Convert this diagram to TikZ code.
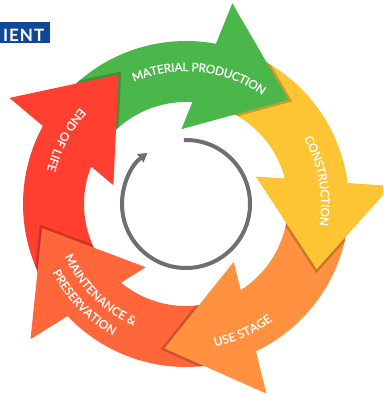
\documentclass[tikz,border=0pt]{standalone}
\usepackage{fontspec}
\newfontfamily\lbl[FakeBold=0.9]{Lato}
\newfontfamily\hdr[LetterSpace=6]{Lato}
\usetikzlibrary{decorations.text,arrows.meta}
\definecolor{cG}{RGB}{75,183,74}
\definecolor{cY}{RGB}{253,196,52}
\definecolor{cO}{RGB}{255,145,64}
\definecolor{cM}{RGB}{255,102,58}
\definecolor{cR}{RGB}{255,64,48}
\definecolor{cB}{RGB}{16,72,148}
\definecolor{cGray}{RGB}{110,111,116}
\newcommand\lblfont{\lbl\fontsize{11.8}{13}\selectfont}
\newcommand\hdrfont{\hdr\bfseries\fontsize{17}{17}\selectfont}
\tikzset{
  lbltext/.style={decorate, decoration={text along path, text align=center, text color=white, raise=-4.1pt, text={|\lblfont|#1}}}
}
\begin{document}
\begin{tikzpicture}[x=1pt,y=1pt]
\useasboundingbox (0,0) rectangle (383,396);
\clip (0,0) rectangle (383,396);
\fill[white] (0,0) rectangle (383,396);
% header
\fill[cB] (-2,353) rectangle (50,374);
\node[anchor=base east, text=white, inner sep=0pt, font=\hdrfont] (hdr) at (44.5,354.5) {IENT};
\coordinate (C) at (186,192);
\begin{scope}[shift={(C)}]
  % ring bands
  \foreach \k/\c in {0/cG,1/cY,2/cO,3/cM,4/cR}{
    \pgfmathsetmacro\ra{142-72*\k}
    \pgfmathsetmacro\rb{75-72*\k}
    \fill[\c] (\ra:163) arc[start angle=\ra, end angle=\rb, radius=163]
      -- (\rb:102) arc[start angle=\rb, end angle=\ra, radius=102] -- cycle;
  }
  % shadows of heads onto next band
  \foreach \k in {0,...,4}{
    \pgfmathsetmacro\sa{70-72*\k}
    \pgfmathsetmacro\sb{3-72*\k}
    \pgfmathsetmacro\ho{77-72*\k}
    \pgfmathsetmacro\ht{45.5-72*\k}
    \pgfmathsetmacro\hi{93.5-72*\k}
    \begin{scope}
      \clip (\sa:163) arc[start angle=\sa, end angle=\sb, radius=163]
        -- (\sb:102) arc[start angle=\sb, end angle=\sa, radius=102] -- cycle;
      \draw[black, opacity=.2, line width=5pt] (\ho:206) -- (\ht:146) -- (\hi:75) -- cycle;
    \end{scope}
  }
  % heads
  \foreach \k/\c in {0/cG,1/cY,2/cO,3/cM,4/cR}{
    \pgfmathsetmacro\ho{77-72*\k}
    \pgfmathsetmacro\ht{45.5-72*\k}
    \pgfmathsetmacro\hi{93.5-72*\k}
    \fill[\c] (\ho:206) -- (\ht:146) -- (\hi:75) -- cycle;
  }
  % labels
  \path[lbltext={MATERIAL PRODUCTION}] (124:137) arc[start angle=124, end angle=44, radius=137];
  \path[lbltext={CONSTRUCTION}] (50:139) arc[start angle=50, end angle=-30, radius=139];
  \path[lbltext={USE STAGE}] (-106:141) arc[start angle=-106, end angle=-26, radius=141];
  \path[lbltext={MAINTENANCE {\&}}] (185:128) arc[start angle=185, end angle=265, radius=128];
  \path[lbltext={PRESERVATION}] (184:146) arc[start angle=184, end angle=264, radius=146];
  \path[lbltext={END OF LIFE}] (112:139) arc[start angle=112, end angle=192, radius=139];
  % inner cycle arrow
  \draw[cGray, line width=4pt, -{Triangle[length=9pt,width=10pt]}] (92:64) arc[start angle=92, end angle=-233, radius=64];
\end{scope}
\end{tikzpicture}
\end{document}
